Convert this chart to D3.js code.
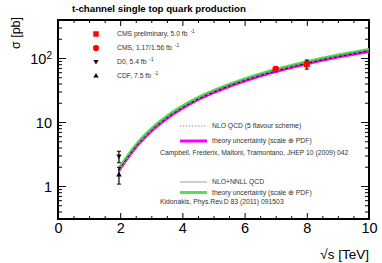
<!DOCTYPE html>
<html>
<head>
<meta charset="utf-8">
<script src="https://cdn.jsdelivr.net/npm/d3@7"></script>
<style>
  body { margin: 0; background: #fff; }
  svg { display: block; font-family: "Liberation Sans", Arial, sans-serif; }
  .axis path { display: none; }
  .axis line { stroke: #000; stroke-width: 1; }
  .axis text { font-size: 14.5px; fill: #000; }
  .leg { font-size: 6.8px; fill: #333; }
</style>
</head>
<body>
<svg id="chart" width="382" height="263"></svg>
<script>
// theory curves, sigma in pb vs sqrt(s) in TeV
const sqrtS = [1.96, 2.2, 2.5, 3, 3.5, 4, 4.5, 5, 5.5, 6, 6.5, 7, 7.5, 8, 9, 10];
const nloSigma = [1.78, 2.62, 4.1, 7.35, 11.57, 16.7, 22.7, 29.2, 36.5, 44.4, 53.2, 62.4, 72.2, 82.6, 105.1, 128.6];
const nnllSigma = [1.85, 2.73, 4.27, 7.65, 12.05, 17.4, 23.6, 30.4, 38.0, 46.3, 55.4, 65.0, 75.2, 86.0, 109.5, 134];

// measurements
const cmsPrelim = [{ s: 8, sigma: 80.1, lo: 13.0, hi: 13.0 }];
const cmsPub = [{ s: 7, sigma: 67.2, lo: 6.1, hi: 6.1 }];
const d0 = [{ s: 1.96, sigma: 2.90, lo: 0.59, hi: 0.59 }];
const cdf = [{ s: 1.96, sigma: 1.49, lo: 0.42, hi: 0.47 }];

const xTicks = [0, 2, 4, 6, 8, 10];
const yTicks = [1, 10, 100];

const pLeft = 58, pRight = 369, pTop = 20, pBottom = 219;
const svg = d3.select("#chart");

let x = d3.scaleLinear().domain([0, 10]).range([pLeft, pRight]);
let y = d3.scaleLog().domain([0.305, 392.6]).range([pBottom, pTop]);

// minor tick positions
let xMinor = d3.range(0, 10.01, 0.5).filter(v => xTicks.indexOf(v) < 0);
let yMinor = [];
[0.1, 1, 10, 100].forEach(dec => {
  for (let k = 2; k <= 9; k++) {
    let v = dec * k;
    if (v > 0.305 && v < 392) yMinor.push(v);
  }
});

// bottom axis, ticks pointing inward
svg.append("g").attr("class", "axis").attr("transform", `translate(0,${pBottom})`)
  .call(d3.axisBottom(x).tickValues(xTicks).tickSizeInner(-6).tickSizeOuter(0).tickPadding(4).tickFormat(d3.format("d")));
svg.append("g").attr("class", "axis").attr("transform", `translate(0,${pBottom})`)
  .call(d3.axisBottom(x).tickValues(xMinor).tickSizeInner(-3).tickSizeOuter(0).tickFormat(""));
// top axis
svg.append("g").attr("class", "axis").attr("transform", `translate(0,${pTop})`)
  .call(d3.axisTop(x).tickValues(xTicks).tickSizeInner(-6).tickSizeOuter(0).tickFormat(""));
svg.append("g").attr("class", "axis").attr("transform", `translate(0,${pTop})`)
  .call(d3.axisTop(x).tickValues(xMinor).tickSizeInner(-3).tickSizeOuter(0).tickFormat(""));

// left axis
let yAx = svg.append("g").attr("class", "axis").attr("transform", `translate(${pLeft},0)`)
  .call(d3.axisLeft(y).tickValues(yTicks).tickSizeInner(-8).tickSizeOuter(0).tickPadding(6).tickFormat(""));
yAx.selectAll(".tick").append("text")
  .attr("x", -6).attr("dy", "0.35em").attr("text-anchor", "end")
  .each(function(d) {
    let t = d3.select(this);
    if (d === 100) {
      t.append("tspan").text("10");
      t.append("tspan").attr("dy", "-0.45em").attr("font-size", "10px").text("2");
    } else {
      t.text(d);
    }
  });
svg.append("g").attr("class", "axis").attr("transform", `translate(${pLeft},0)`)
  .call(d3.axisLeft(y).tickValues(yMinor).tickSizeInner(-4).tickSizeOuter(0).tickFormat(""));
// right axis
svg.append("g").attr("class", "axis").attr("transform", `translate(${pRight},0)`)
  .call(d3.axisRight(y).tickValues(yTicks).tickSizeInner(-8).tickSizeOuter(0).tickFormat(""));
svg.append("g").attr("class", "axis").attr("transform", `translate(${pRight},0)`)
  .call(d3.axisRight(y).tickValues(yMinor).tickSizeInner(-4).tickSizeOuter(0).tickFormat(""));

// frame
svg.append("rect").attr("x", pLeft).attr("y", pTop).attr("width", pRight - pLeft).attr("height", pBottom - pTop)
  .attr("fill", "none").attr("stroke", "#000").attr("stroke-width", 2);

// theory curves
let line = (vals, shift) => d3.line()
  .x((d, i) => x(sqrtS[i]))
  .y((d, i) => y(vals[i]) + shift)
  .curve(d3.curveMonotoneX)(vals);

svg.append("path").attr("d", line(nloSigma, 0.5)).attr("fill", "none")
  .attr("stroke", "#ff00ff").attr("stroke-width", 3);
svg.append("path").attr("d", line(nnllSigma, -0.5)).attr("fill", "none")
  .attr("stroke", "#55dd55").attr("stroke-width", 3);
svg.append("path").attr("d", line(nnllSigma, 0)).attr("fill", "none")
  .attr("stroke", "#777").attr("stroke-width", 0.8);
svg.append("path").attr("d", line(nloSigma, 0)).attr("fill", "none")
  .attr("stroke", "#111").attr("stroke-width", 1).attr("stroke-dasharray", "3,2");

// error bars + markers
function errBars(data, color) {
  let g = svg.append("g");
  data.forEach(d => {
    g.append("line").attr("x1", x(d.s)).attr("x2", x(d.s))
      .attr("y1", y(d.sigma - d.lo)).attr("y2", y(d.sigma + d.hi))
      .attr("stroke", color).attr("stroke-width", 1.2);
    [d.sigma - d.lo, d.sigma + d.hi].forEach(v => {
      g.append("line").attr("x1", x(d.s) - 2).attr("x2", x(d.s) + 2)
        .attr("y1", y(v)).attr("y2", y(v)).attr("stroke", color).attr("stroke-width", 1);
    });
  });
}
errBars(cmsPrelim, "#000");
errBars(cmsPub, "#000");
errBars(d0, "#000");
errBars(cdf, "#000");

let sym = (type, size) => d3.symbol().type(type).size(size)();
let downTri = "M-2.6,-2L2.6,-2L0,2.6Z";

svg.selectAll(".cmsP").data(cmsPrelim).enter().append("path")
  .attr("transform", d => `translate(${x(d.s)},${y(d.sigma)})`)
  .attr("d", sym(d3.symbolSquare, 36)).attr("fill", "#ff0000");
svg.selectAll(".cmsC").data(cmsPub).enter().append("path")
  .attr("transform", d => `translate(${x(d.s)},${y(d.sigma)})`)
  .attr("d", sym(d3.symbolCircle, 34)).attr("fill", "#ff0000");
svg.selectAll(".d0").data(d0).enter().append("path")
  .attr("transform", d => `translate(${x(d.s)},${y(d.sigma)})`)
  .attr("d", downTri).attr("fill", "#000");
svg.selectAll(".cdf").data(cdf).enter().append("path")
  .attr("transform", d => `translate(${x(d.s)},${y(d.sigma)})`)
  .attr("d", sym(d3.symbolTriangle, 14)).attr("fill", "#000");

// marker legend
const markerLegend = [
  { label: "CMS preliminary, 5.0 fb", y: 34 },
  { label: "CMS, 1.17/1.56 fb", y: 48 },
  { label: "D0, 5.4 fb", y: 62 },
  { label: "CDF, 7.5 fb", y: 76 }
];
svg.append("path").attr("transform", "translate(96,34)").attr("d", sym(d3.symbolSquare, 30)).attr("fill", "#ff0000");
svg.append("path").attr("transform", "translate(96,48)").attr("d", sym(d3.symbolCircle, 30)).attr("fill", "#ff0000");
svg.append("path").attr("transform", "translate(96,62)").attr("d", downTri).attr("fill", "#000");
svg.append("path").attr("transform", "translate(96,76)").attr("d", sym(d3.symbolTriangle, 12)).attr("fill", "#000");
markerLegend.forEach(m => {
  let t = svg.append("text").attr("class", "leg").attr("x", 117).attr("y", m.y + 2);
  t.append("tspan").text(m.label);
  t.append("tspan").attr("dx", 3).attr("dy", -3).attr("font-size", "4.8px").text("-1");
});

// theory legends
let th = svg.append("g");
th.append("line").attr("x1", 180).attr("x2", 207).attr("y1", 126).attr("y2", 126)
  .attr("stroke", "#777").attr("stroke-width", 0.8).attr("stroke-dasharray", "1.5,1.5");
th.append("text").attr("class", "leg").attr("x", 212).attr("y", 128).text("NLO QCD (5 flavour scheme)");
th.append("line").attr("x1", 180).attr("x2", 207).attr("y1", 141).attr("y2", 141)
  .attr("stroke", "#ff00ff").attr("stroke-width", 3);
th.append("text").attr("class", "leg").attr("x", 212).attr("y", 143).text("theory uncertainty (scale  \u2295 PDF)");
th.append("text").attr("class", "leg").attr("x", 160).attr("y", 155).attr("font-size", "4.8px")
  .text("Campbell, Frederix, Maltoni, Tramontano, JHEP 10 (2009) 042");

th.append("line").attr("x1", 180).attr("x2", 207).attr("y1", 182).attr("y2", 182)
  .attr("stroke", "#888").attr("stroke-width", 0.8);
th.append("text").attr("class", "leg").attr("x", 212).attr("y", 184).text("NLO+NNLL QCD");
th.append("line").attr("x1", 180).attr("x2", 207).attr("y1", 192.5).attr("y2", 192.5)
  .attr("stroke", "#55dd55").attr("stroke-width", 3);
th.append("text").attr("class", "leg").attr("x", 212).attr("y", 194.5).text("theory uncertainty (scale  \u2295 PDF)");
th.append("text").attr("class", "leg").attr("x", 160).attr("y", 204).attr("font-size", "4.3px")
  .text("Kidonakis, Phys.Rev.D 83 (2011) 091503");

// titles
svg.append("text").attr("x", 72).attr("y", 12).attr("font-size", "9.7px").attr("font-weight", "bold")
  .text("t-channel single top quark production");
svg.append("text").attr("transform", "translate(20,33) rotate(-90)").attr("text-anchor", "middle")
  .attr("font-size", "12.5px").text("\u03c3 [pb]");
svg.append("text").attr("x", 369).attr("y", 259).attr("text-anchor", "end")
  .attr("font-size", "13.5px").text("\u221as [TeV]");
</script>
</body>
</html>
